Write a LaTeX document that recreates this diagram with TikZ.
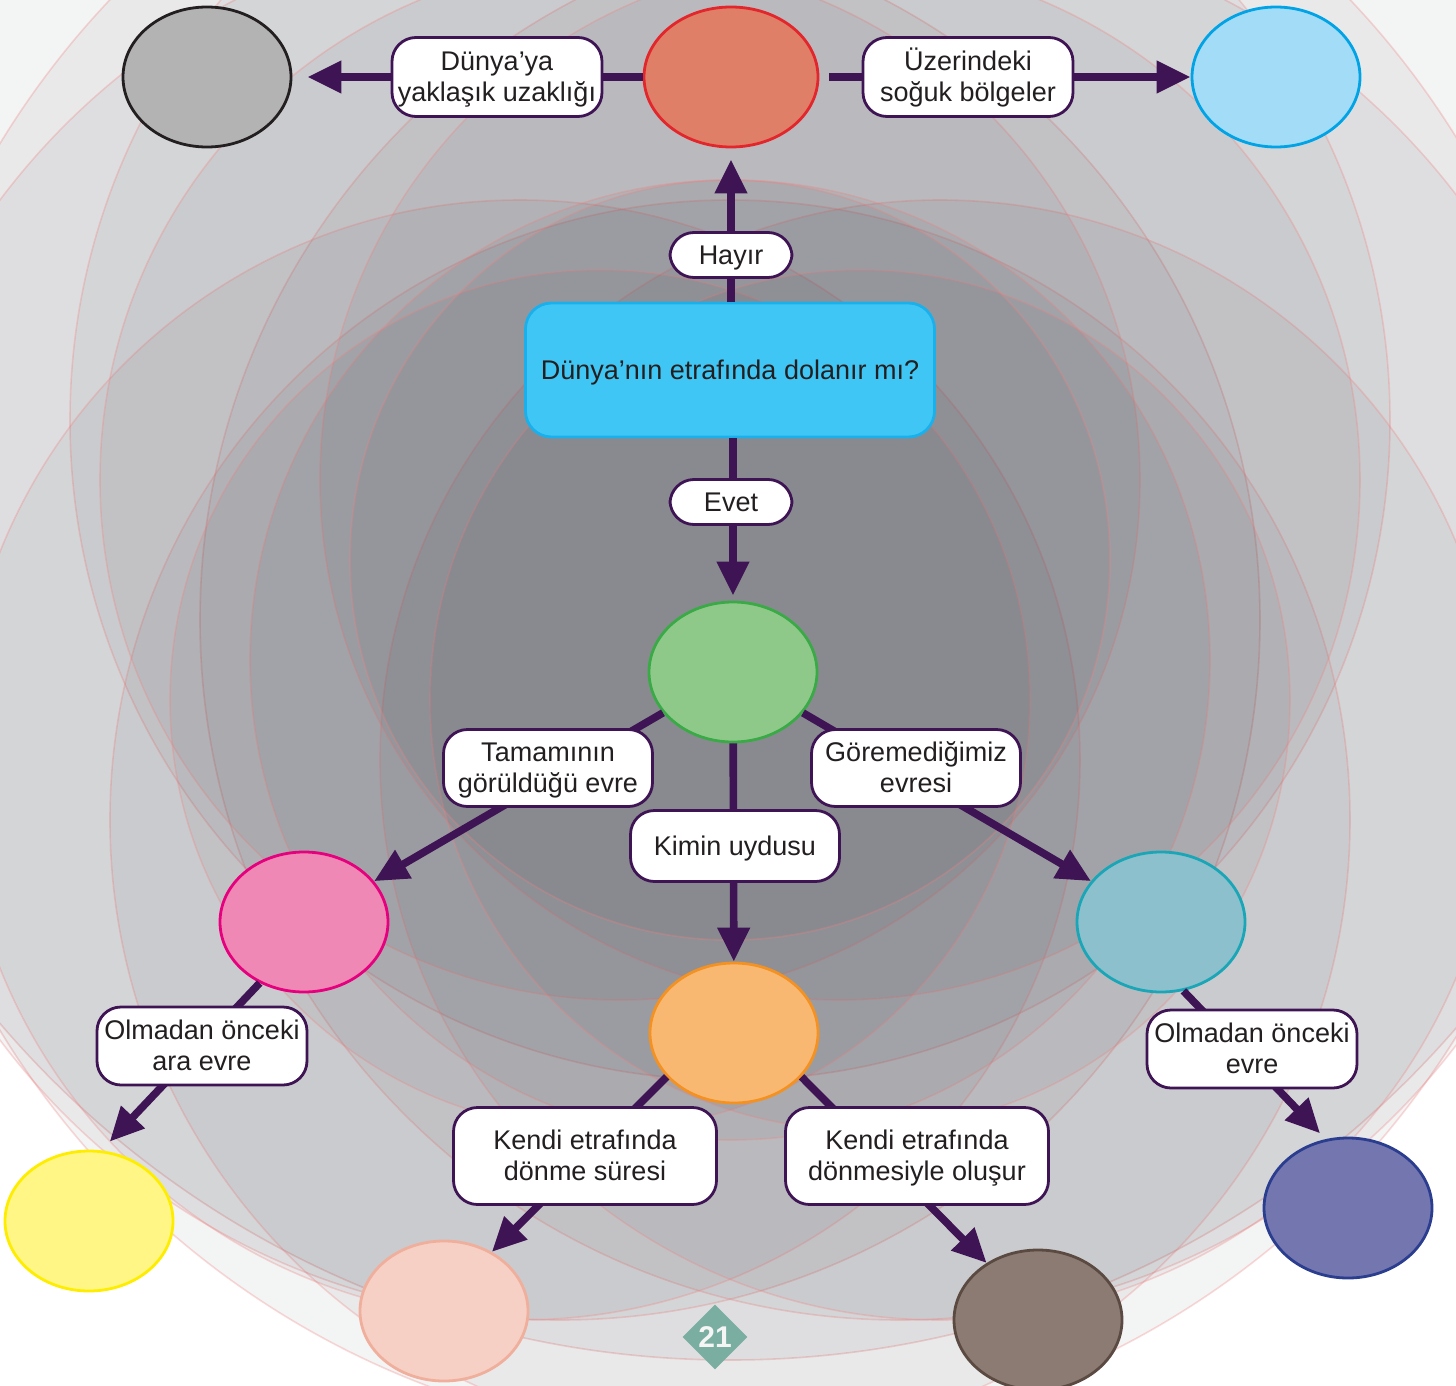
\documentclass[tikz,border=0pt]{standalone}
\usepackage{fontspec}
\setmainfont{Liberation Sans}
\usetikzlibrary{arrows.meta,shapes.geometric}
\definecolor{pur}{HTML}{3F1455}
\definecolor{txtc}{HTML}{231F20}
\definecolor{bgc}{RGB}{28,30,42}
\definecolor{ringc}{HTML}{F08080}
\definecolor{grayF}{RGB}{179,179,179}
\definecolor{redF}{RGB}{224,127,104}\definecolor{redD}{RGB}{226,38,43}
\definecolor{lbF}{RGB}{163,220,246}\definecolor{lbD}{RGB}{0,163,230}
\definecolor{grF}{RGB}{143,201,138}\definecolor{grD}{RGB}{58,170,71}
\definecolor{pkF}{RGB}{240,136,181}\definecolor{pkD}{RGB}{230,0,126}
\definecolor{tlF}{RGB}{139,192,204}\definecolor{tlD}{RGB}{26,166,183}
\definecolor{orF}{RGB}{249,184,114}\definecolor{orD}{RGB}{243,146,34}
\definecolor{yeF}{RGB}{255,246,133}\definecolor{yeD}{RGB}{255,237,0}
\definecolor{peF}{RGB}{246,208,196}\definecolor{peD}{RGB}{239,175,156}
\definecolor{brF}{RGB}{139,123,114}\definecolor{brD}{RGB}{91,74,66}
\definecolor{nvF}{RGB}{116,118,176}\definecolor{nvD}{RGB}{42,61,143}
\definecolor{qF}{RGB}{64,198,244}\definecolor{qD}{RGB}{26,176,236}
\definecolor{pgF}{RGB}{122,174,161}
\newcommand\twoln[2]{\rule{0pt}{14pt}#1\\#2\rule[-5pt]{0pt}{0pt}}
\begin{document}
\begin{tikzpicture}[x=0.5pt,y=-0.5pt,
  txtbase/.style={inner sep=0pt, text=txtc, font=\fontsize{13.5}{15.5}\selectfont},
  onel/.style={execute at begin node={\rule{0pt}{13pt}}, execute at end node={\rule[-4pt]{0pt}{0pt}}},
  lbl/.style={txtbase, draw=pur, line width=1.4pt, fill=white, rounded corners=12pt, align=center},
  blob/.style={ellipse, line width=1.4pt, minimum width=84pt, minimum height=70pt, inner sep=0pt},
  conn/.style={draw=pur, line width=3.8pt, -{Triangle[length=17pt,width=15.5pt]}}
]
\useasboundingbox (0,0) rectangle (1456,1386);
% background: translucent overlapping circles
\begin{scope}
\clip (0,0) rectangle (1456,1386);
\foreach \cx/\cy/\r in {730/400/960, 730/587/854, 560/620/700, 900/620/700, 730/420/660,
  730/820/620, 520/760/560, 940/760/560, 620/480/520, 840/480/520, 730/660/480,
  600/700/430, 860/700/430, 730/560/380}{
  \fill[bgc, fill opacity=0.05] (\cx,\cy) circle[radius=\r];
  \draw[ringc, draw opacity=0.3, line width=0.8pt] (\cx,\cy) circle[radius=\r];
}
\end{scope}

% nodes
\node[blob, fill=grayF, draw=txtc] (gray) at (207,77) {};
\node[blob, fill=redF, draw=redD, minimum width=87pt] (red) at (731,77) {};
\node[blob, fill=lbF, draw=lbD] (lblue) at (1276,77) {};
\node[blob, fill=grF, draw=grD] (green) at (733,672) {};
\node[blob, fill=pkF, draw=pkD] (pink) at (304,922) {};
\node[blob, fill=tlF, draw=tlD] (teal) at (1161,922) {};
\node[blob, fill=orF, draw=orD] (orange) at (734,1033) {};
\node[blob, fill=yeF, draw=yeD] (yellow) at (89,1221) {};
\node[blob, fill=peF, draw=peD] (peach) at (444,1311) {};
\node[blob, fill=brF, draw=brD] (brown) at (1038,1320) {};
\node[blob, fill=nvF, draw=nvD] (navy) at (1348,1208) {};

\node[txtbase, onel, draw=qD, fill=qF, line width=1.4pt, rounded corners=13pt,
  minimum width=204.5pt, minimum height=67pt] (q) at (730,370) {Dünya’nın etrafında dolanır mı?};

% connectors (drawn beneath labels)
\draw[conn, shorten >=7.5pt] (red) -- (gray);
\draw[conn, shorten <=5pt] (red) -- (lblue);
\draw[conn, shorten >=5.5pt] (q.north -| red) -- (red);
\draw[conn, shorten >=2.5pt] (q.south -| green) -- (green);
\draw[conn] (green) -- (pink);
\draw[conn] (green) -- (teal);
\draw[conn] (green) -- (orange);
\draw[conn, shorten >=6pt] (pink.-126) -- (yellow.80);
\draw[conn] (orange.-147) -- (peach.51);
\draw[conn] (orange.-33) -- (brown.132);
\draw[conn, shorten >=4pt] (teal.-72) -- (navy.108);

% labels
\node[lbl, minimum width=105pt, minimum height=39.5pt] (l1) at (497,77) {\twoln{Dünya’ya}{yaklaşık uzaklığı}};
\node[lbl, minimum width=105pt, minimum height=39.5pt] (l2) at (968,77) {\twoln{Üzerindeki}{soğuk bölgeler}};
\node[lbl, onel, minimum width=61pt, minimum height=22.5pt] (hayir) at (731,255) {Hayır};
\node[lbl, onel, minimum width=61pt, minimum height=22.5pt] (evet) at (731,502) {Evet};
\node[lbl, minimum width=104.5pt, minimum height=38.5pt] (l3) at (548,768) {\twoln{Tamamının}{görüldüğü evre}};
\node[lbl, minimum width=104.5pt, minimum height=38.5pt] (l4) at (916,768) {\twoln{Göremediğimiz}{evresi}};
\node[lbl, onel, minimum width=104.5pt, minimum height=35.5pt] (l5) at (735,846) {Kimin uydusu};
\node[lbl, minimum width=105pt, minimum height=39pt] (l6) at (202,1046) {\twoln{Olmadan önceki}{ara evre}};
\node[lbl, minimum width=131.5pt, minimum height=48.5pt] (l7) at (585,1156) {\twoln{Kendi etrafında}{dönme süresi}};
\node[lbl, minimum width=131.5pt, minimum height=48.5pt] (l8) at (917,1156) {\twoln{Kendi etrafında}{dönmesiyle oluşur}};
\node[lbl, minimum width=105pt, minimum height=39pt] (l9) at (1252,1049) {\twoln{Olmadan önceki}{evre}};

% page number
\node[diamond, fill=pgF, minimum width=32.5pt, minimum height=32.5pt, inner sep=0pt,
  text=white!92!gray, font=\fontsize{15}{15}\selectfont\bfseries] (pg) at (715,1337) {21};
\end{tikzpicture}
\end{document}
